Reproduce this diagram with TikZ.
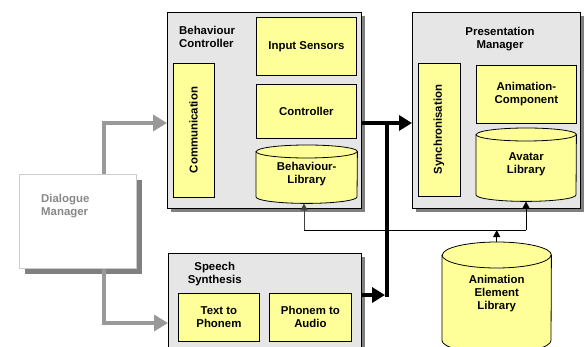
\documentclass[tikz,border=0pt]{standalone}
\usepackage{fontspec}
\setmainfont{Liberation Sans}
\usetikzlibrary{shadows,arrows.meta,calc}
\definecolor{yel}{HTML}{FFFF99}
\definecolor{panel}{HTML}{E6E6E6}
\definecolor{shad}{HTML}{808080}
\definecolor{garr}{HTML}{999999}
\definecolor{dmtext}{HTML}{888888}
\definecolor{dmborder}{HTML}{CCCCCC}
\pgfdeclarelayer{back}
\pgfdeclarelayer{cyl}
\pgfsetlayers{back,cyl,main}
\begin{document}
\begin{tikzpicture}[x=1pt,y=-1pt,
  lbl/.style={font=\bfseries\fontsize{11.4}{13}\selectfont, inner sep=0pt},
  panelbox/.style={draw=black, line width=0.8pt, fill=panel, inner sep=0pt,
    drop shadow={shadow xshift=4pt, shadow yshift=-4pt, fill=shad, opacity=1}},
  ybox/.style={draw=black, line width=0.8pt, fill=yel, inner sep=0pt, align=center,
    font=\bfseries\fontsize{11.4}{13}\selectfont},
  cylnode/.style={inner sep=0pt, align=center, font=\bfseries\fontsize{11.4}{13}\selectfont},
  cylbody/.style={draw=black, line width=0.8pt, fill=yel},
  garrow/.style={draw=garr, line width=4pt, -{Triangle[length=14pt,width=16pt]}},
  thk/.style={line width=4pt, draw=black},
  thktip/.style={-{Triangle[length=13pt,width=15pt]}},
  thn/.style={line width=1pt, -{Triangle[length=7pt,width=7pt]}},
]
\useasboundingbox (0,0) rectangle (585,347);

% panels
\begin{pgfonlayer}{back}
\fill[white] (0,0) rectangle (585,347);
\node[panelbox, anchor=north west, minimum width=194pt, minimum height=196pt] (bc) at (167,12) {};
\node[panelbox, anchor=north west, minimum width=168pt, minimum height=196pt] (pm) at (412,12) {};
\node[panelbox, anchor=north west, minimum width=193pt, minimum height=100pt] (ss) at (168,253) {};
\node[draw=dmborder, fill=white, line width=0.8pt, inner sep=0pt,
  drop shadow={shadow xshift=6pt, shadow yshift=-6pt, fill=shad, opacity=1},
  anchor=north west, minimum width=117pt, minimum height=94pt] (dm) at (19,174) {};
\end{pgfonlayer}

% titles
\node[lbl, anchor=north west, align=left] (bct) at (179,26) {Behaviour\\Controller};
\node[lbl, anchor=north, align=center] (pmt) at (500,27) {Presentation\\Manager};
\node[lbl, anchor=north, align=center] (sst) at (214.7,262) {Speech\\Synthesis};
\node[lbl, anchor=north west, align=left, text=dmtext] (dmt) at (41,194) {Dialogue\\Manager};

% inner boxes
\node[ybox, anchor=north west, minimum width=100pt, minimum height=58pt] (in) at (256,17) {Input Sensors};
\node[ybox, anchor=north west, minimum width=100pt, minimum height=54pt] (ctl) at (256,84) {Controller};
\node[ybox, rotate=90, minimum width=134pt, minimum height=41pt] (com) at (193.5,130) {Communication};
\node[ybox, rotate=90, minimum width=133pt, minimum height=42pt] (syn) at (439,129.5) {Synchronisation};
\node[ybox, anchor=north west, minimum width=100pt, minimum height=58pt] (ac) at (476,65) {Animation-\\Component};
\node[ybox, anchor=north west, minimum width=81pt, minimum height=48pt] (tp) at (178,293) {Text to\\Phonem};
\node[ybox, anchor=north west, minimum width=82pt, minimum height=48pt] (pa) at (269,293) {Phonem to\\Audio};

% cylinders
\node[cylnode, anchor=north west, minimum width=101pt, minimum height=58pt] (bl) at (256,145) {Behaviour-\\Library};
\node[cylnode, anchor=north west, minimum width=100pt, minimum height=73pt] (al) at (476,128) {Avatar\\Library};
\node[cylnode, anchor=north west, minimum width=109pt, minimum height=102pt] (ael) at (442,242) {Animation\\Element\\Library};

\begin{pgfonlayer}{cyl}
\draw[cylbody] ([yshift=-6.5pt]bl.north west) -- ([yshift=6.5pt]bl.south west)
  arc[start angle=180,end angle=360,x radius=50.5pt,y radius=6.5pt]
  -- ([yshift=-6.5pt]bl.north east)
  arc[start angle=0,end angle=180,x radius=50.5pt,y radius=6.5pt] -- cycle;
\draw[line width=0.8pt] ([yshift=-6.5pt]bl.north west)
  arc[start angle=180,end angle=360,x radius=50.5pt,y radius=6.5pt];
\draw[cylbody] ([yshift=-6.5pt]al.north west) -- ([yshift=6.5pt]al.south west)
  arc[start angle=180,end angle=360,x radius=50pt,y radius=6.5pt]
  -- ([yshift=-6.5pt]al.north east)
  arc[start angle=0,end angle=180,x radius=50pt,y radius=6.5pt] -- cycle;
\draw[line width=0.8pt] ([yshift=-6.5pt]al.north west)
  arc[start angle=180,end angle=360,x radius=50pt,y radius=6.5pt];
\draw[cylbody] ([yshift=-13pt]ael.north west) -- ([yshift=4pt]ael.south west)
  arc[start angle=180,end angle=360,x radius=54.5pt,y radius=13pt]
  -- ([yshift=-13pt]ael.north east)
  arc[start angle=0,end angle=180,x radius=54.5pt,y radius=13pt] -- cycle;
\draw[line width=0.8pt] ([yshift=-13pt]ael.north west)
  arc[start angle=180,end angle=360,x radius=54.5pt,y radius=13pt];
\end{pgfonlayer}

% grey arrows from Dialogue Manager
\coordinate (dmtop) at ($(dm.north west)+(85,0)$);
\coordinate (dmbot) at ($(dm.south west)+(85,0)$);
\coordinate (gy1) at (0,123);
\coordinate (gy2) at (0,323);
\draw[garrow] (dmtop) |- (bc.west |- gy1);
\draw[garrow] (dmbot) |- (ss.west |- gy2);

% thin connectors
\coordinate (hl) at (304,230);
\coordinate (hr) at (526,230);
\draw[line width=1pt] (hl) -- (hr);
\draw[thn, draw=black!75] (hl) -- (bl.south -| hl);
\draw[thn] (hr) -- (al.south -| hr);
\draw[thn] (ael.north) -- (ael.north |- hl);

% thick connectors
\coordinate (jt) at (387,123);
\coordinate (jb) at (387,295);
\draw[thk, line cap=rect] (jt) -- (jb);
\draw[thk, thktip] (bc.east |- jt) -- (pm.west |- jt);
\draw[thk, thktip, shorten >=2pt] (ss.east |- jb) -- (jb);
\end{tikzpicture}
\end{document}
